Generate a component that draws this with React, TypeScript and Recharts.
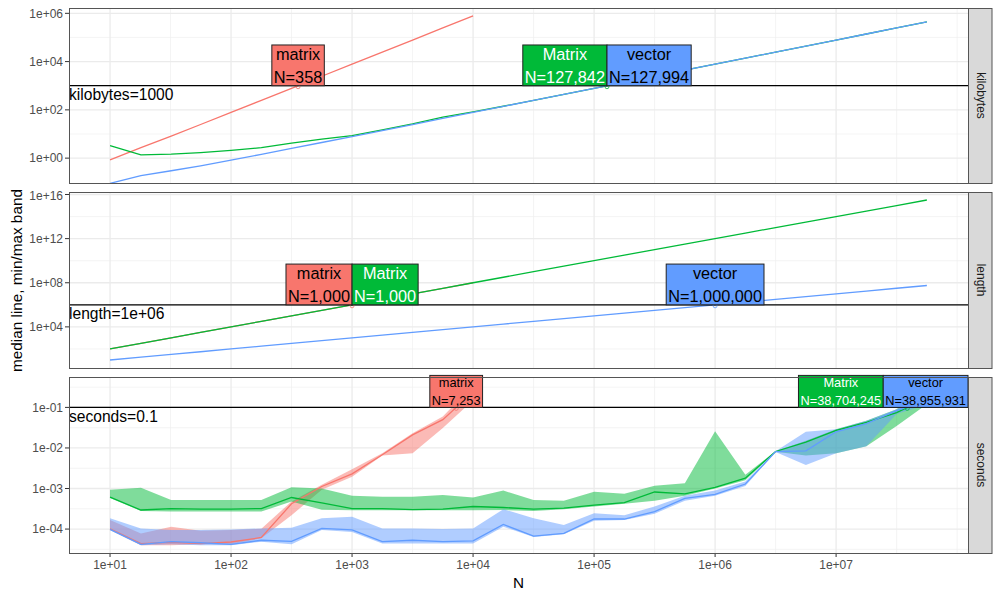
import React from "react";
import {
  Area,
  CartesianGrid,
  ComposedChart,
  Line,
  ReferenceDot,
  ReferenceLine,
  XAxis,
  YAxis
} from "recharts";

const FONT = '"Liberation Sans", Arial, Helvetica, sans-serif';
const COLORS: Record<string, string> = { matrix: "#F8766D", Matrix: "#00BA38", vector: "#619CFF" };
const INK: Record<string, string> = { matrix: "#000000", Matrix: "#FFFFFF", vector: "#000000" };
const SERIES = ["matrix", "Matrix", "vector"];

// N values (quarter-decade steps)
const N = [
  10, 18, 32, 56, 100, 178, 316, 562, 1000, 1778, 3162, 5623, 10000, 17783, 31623, 56234,
  100000, 177828, 316228, 562341, 1000000, 1778279, 3162278, 5623413, 10000000, 17782794,
  31622777, 56234133
];

// kilobytes
const kbMatrix = [0.85, 2.7, 8.2, 24.7, 78, 248, 781, 2467, 7813, 24700, 78110, 247000, 781000];
const kbMatrixPkg = [
  3.3, 1.37, 1.47, 1.7, 2.1, 2.7, 4.2, 6.1, 8.6, 14.8, 26, 50, 82, 141, 249, 441, 783, 1391,
  2473, 4395, 7815, 13895, 24707, 43935, 78127, 138930, 247055, 439331
];
const kbVector = [
  0.09, 0.19, 0.3, 0.48, 0.83, 1.44, 2.52, 4.44, 7.86, 13.9, 24.7, 44.0, 78.2, 139, 247, 439,
  781, 1389, 2471, 4393, 7813, 13893, 24705, 43933, 78125, 138928, 247053, 439329
];

// length
const lenMatrix = [100, 324, 1024, 3136, 10000, 31684, 99856, 315844, 1e6, 3161284, 9998244, 31618129, 1e8];
const lenMatrixPkg = [
  100, 324, 1024, 3136, 10000, 31684, 99856, 315844, 1e6, 3161284, 9998244, 31618129, 1e8,
  316235089, 1.000014e9, 3.162263e9, 1e10, 3.16228e10, 1.0e11, 3.16227e11, 1e12, 3.16228e12,
  1e13, 3.16228e13, 1e14, 3.16228e14, 1e15, 3.16228e15
];
const lenVector = N;

// seconds: median / min / max
const secMatrixMed = [1.02e-4, 4.4e-5, 4.7e-5, 4.4e-5, 4.8e-5, 6.2e-5, 4.2e-4, 1.12e-3, 2.3e-3, 6.8e-3, 2.1e-2, 5.0e-2, 0.24];
const secMatrixMin = [9.5e-5, 4.0e-5, 4.0e-5, 4.2e-5, 4.2e-5, 5.9e-5, 2.2e-4, 9.3e-4, 1.95e-3, 6.5e-3, 7.4e-3, 3.1e-2, 0.15];
const secMatrixMax = [1.67e-4, 7.8e-5, 1.14e-4, 9.1e-5, 9.5e-5, 1.02e-4, 4.8e-4, 1.23e-3, 3.0e-3, 7.4e-3, 2.3e-2, 6.0e-2, 0.35];

const secMatrixPkgMed = [
  6.1e-4, 2.95e-4, 3.2e-4, 3.1e-4, 3.1e-4, 3.2e-4, 6.0e-4, 4.4e-4, 3.2e-4, 3.2e-4, 3.0e-4, 3.1e-4,
  3.6e-4, 3.4e-4, 3.1e-4, 3.3e-4, 3.9e-4, 4.5e-4, 8.2e-4, 7.4e-4, 1.07e-3, 1.8e-3, 8.2e-3,
  1.4e-2, 2.7e-2, 4.3e-2, 7.4e-2, 0.17
];
const secMatrixPkgMin = [
  5.8e-4, 2.8e-4, 2.7e-4, 2.7e-4, 2.7e-4, 2.7e-4, 4.8e-4, 3.0e-4, 2.9e-4, 2.9e-4, 2.9e-4, 2.9e-4,
  2.9e-4, 2.95e-4, 2.8e-4, 3.1e-4, 3.6e-4, 4.2e-4, 5.0e-4, 6.6e-4, 1.0e-3, 1.6e-3, 8.1e-3,
  6.5e-3, 7.4e-3, 1.1e-2, 3.5e-2, 0.12
];
const secMatrixPkgMax = [
  9.3e-4, 1.05e-3, 5.2e-4, 5.2e-4, 5.2e-4, 5.2e-4, 1.07e-3, 1.0e-3, 6.6e-4, 6.3e-4, 6.3e-4, 6.9e-4,
  6.0e-4, 8.9e-4, 5.2e-4, 5.0e-4, 8.3e-4, 7.4e-4, 1.17e-3, 1.35e-3, 2.6e-2, 2.2e-3, 8.3e-3,
  1.5e-2, 2.9e-2, 4.7e-2, 9.0e-2, 0.35
];

const secVectorMed = [
  9.8e-5, 4.2e-5, 4.9e-5, 4.6e-5, 4.2e-5, 5.3e-5, 5.0e-5, 1.04e-4, 9.5e-5, 4.9e-5, 5.3e-5, 4.9e-5,
  5.1e-5, 1.3e-4, 6.7e-5, 7.8e-5, 1.77e-4, 1.77e-4, 2.7e-4, 5.7e-4, 7.2e-4, 1.29e-3, 8.1e-3,
  8.5e-3, 2.5e-2, 4.0e-2, 8.3e-2, 0.15
];
const secVectorMin = [
  9.5e-5, 4.0e-5, 4.2e-5, 4.0e-5, 4.0e-5, 4.9e-5, 4.2e-5, 9.5e-5, 8.5e-5, 4.4e-5, 4.4e-5, 4.4e-5,
  4.4e-5, 1.14e-4, 6.4e-5, 7.4e-5, 1.6e-4, 1.67e-4, 2.4e-4, 5.0e-4, 6.6e-4, 1.15e-3, 8.0e-3,
  3.8e-3, 7.4e-3, 1.1e-2, 6.9e-2, 0.12
];
const secVectorMax = [
  1.85e-4, 1.04e-4, 9.5e-5, 9.5e-5, 9.8e-5, 1.04e-4, 1.08e-4, 1.85e-4, 2.0e-4, 1.04e-4, 1.04e-4,
  1.0e-4, 1.04e-4, 3.1e-4, 1.85e-4, 1.26e-4, 2.45e-4, 2.2e-4, 3.6e-4, 6.6e-4, 8.9e-4, 1.48e-3,
  8.3e-3, 2.5e-2, 2.9e-2, 4.7e-2, 9.0e-2, 0.3
];

// direct labels where each median line crosses the threshold
const kbLabels = [[{ series: "matrix", n: 358 }], [{ series: "Matrix", n: 127842 }, { series: "vector", n: 127994 }]];
const lenLabels = [[{ series: "matrix", n: 1000 }, { series: "Matrix", n: 1000 }], [{ series: "vector", n: 1000000 }]];
const secLabels = [[{ series: "matrix", n: 7253 }], [{ series: "Matrix", n: 38704245 }, { series: "vector", n: 38955931 }]];

// axes
const X_DOMAIN = [4.58, 1.23e8];
const X_TICKS = [10, 100, 1e3, 1e4, 1e5, 1e6, 1e7];
const X_MINOR = [31.6, 316, 3162, 31623, 316228, 3162278, 31622777, 1e8];

const PLOT_LEFT = 69;
const PLOT_RIGHT = 968;

const sciFmt = (v: number) => {
  const e = Math.round(Math.log10(v));
  return `1e${e < 0 ? "-" : "+"}${String(Math.abs(e)).padStart(2, "0")}`;
};

const ADV: Record<string, number> = {
  "0": 0.556, "1": 0.556, "2": 0.556, "3": 0.556, "4": 0.556, "5": 0.556, "6": 0.556, "7": 0.556,
  "8": 0.556, "9": 0.556, ",": 0.278, "=": 0.584, N: 0.722, M: 0.833, m: 0.833, a: 0.556,
  t: 0.278, r: 0.333, i: 0.222, x: 0.5, v: 0.5, e: 0.556, c: 0.5, o: 0.556
};
const textWidth = (s: string, fs: number) => [...s].reduce((w, ch) => w + (ADV[ch] ?? 0.556), 0) * fs;

const at = (arr: number[], i: number) => (i < arr.length ? arr[i] : null);
const band = (lo: number[], hi: number[], i: number) => (i < lo.length ? [lo[i], hi[i]] : null);

const kbRows = N.map((n, i) => ({ N: n, matrix: at(kbMatrix, i), Matrix: kbMatrixPkg[i], vector: kbVector[i] }));
const lenRows = N.map((n, i) => ({ N: n, matrix: at(lenMatrix, i), Matrix: lenMatrixPkg[i], vector: lenVector[i] }));
const secRows = N.map((n, i) => ({
  N: n,
  matrix: at(secMatrixMed, i),
  Matrix: secMatrixPkgMed[i],
  vector: secVectorMed[i],
  matrixBand: band(secMatrixMin, secMatrixMax, i),
  MatrixBand: band(secMatrixPkgMin, secMatrixPkgMax, i),
  vectorBand: band(secVectorMin, secVectorMax, i)
}));

function LabelGroup(props: any) {
  const { cx, cy, members, fs } = props;
  if (cx == null || cy == null) return null;
  const texts = members.map((m: any) => `N=${m.n.toLocaleString("en-US")}`);
  const widths = members.map((m: any, i: number) => Math.max(textWidth(m.series, fs), textWidth(texts[i], fs)) + 4);
  const total = widths.reduce((a: number, b: number) => a + b, 0);
  let left = members.length > 1 ? cx - widths[0] : cx - widths[0] / 2;
  left = Math.max(PLOT_LEFT, Math.min(left, PLOT_RIGHT - total));
  const h = fs * 2.5;
  const topY = cy - h;
  let x = left;
  return (
    <g>
      <circle cx={cx} cy={cy + 1} r={2} fill="none" stroke={COLORS[members[0].series]} strokeWidth={0.8} />
      {members.map((m: any, i: number) => {
        const w = widths[i];
        const el = (
          <g key={m.series}>
            <rect x={x} y={topY} width={w} height={h} fill={COLORS[m.series]} stroke="#222" strokeWidth={1} />
            <text x={x + w / 2} y={topY + fs * 0.92} textAnchor="middle" fontSize={fs} fontFamily={FONT} fill={INK[m.series]}>
              {m.series}
            </text>
            <text x={x + w / 2} y={topY + fs * 2.35} textAnchor="middle" fontSize={fs} fontFamily={FONT} fill={INK[m.series]}>
              {texts[i]}
            </text>
          </g>
        );
        x += w;
        return el;
      })}
    </g>
  );
}

function ThreshText(props: any) {
  const { viewBox, text } = props;
  if (!viewBox) return null;
  return (
    <text x={viewBox.x} y={viewBox.y + 14.5} fontSize={15.6} fontFamily={FONT} fill="#000">
      {text}
    </text>
  );
}

function AxisTitleN(props: any) {
  const { viewBox } = props;
  if (!viewBox) return null;
  return (
    <text x={viewBox.x + viewBox.width / 2} y={viewBox.y + 35} textAnchor="middle" fontSize={15.3} fontFamily={FONT} fill="#000">
      N
    </text>
  );
}

type PanelProps = {
  rows: any[];
  top: number;
  height: number;
  marginTop: number;
  yDomain: number[];
  yTicks: number[];
  yMinor: number[];
  threshold: number;
  thresholdText: string;
  groups: { series: string; n: number }[][];
  fs: number;
  bands: boolean;
  showX: boolean;
};

function Panel(p: PanelProps) {
  const tickStyle = { fill: "#4D4D4D", fontSize: 12, fontFamily: FONT };
  return (
    <div style={{ position: "absolute", left: 0, top: p.top }}>
      <ComposedChart
        width={1000}
        height={p.height}
        data={p.rows}
        margin={{ top: p.marginTop, right: 1000 - PLOT_RIGHT, bottom: p.showX ? 0 : 5, left: 0 }}
      >
        <CartesianGrid stroke="#EFEFEF" strokeWidth={0.7} horizontalValues={p.yMinor} verticalValues={X_MINOR} />
        <CartesianGrid stroke="#EBEBEB" strokeWidth={1.3} horizontalValues={p.yTicks} verticalValues={X_TICKS} />
        <XAxis
          dataKey="N"
          type="number"
          scale="log"
          domain={X_DOMAIN}
          allowDataOverflow
          ticks={X_TICKS}
          tickFormatter={sciFmt}
          hide={!p.showX}
          height={47}
          axisLine={false}
          tickSize={4}
          tickMargin={3}
          tickLine={{ stroke: "#333" }}
          tick={tickStyle}
          label={<AxisTitleN />}
        />
        <YAxis
          type="number"
          scale="log"
          domain={p.yDomain}
          allowDataOverflow
          ticks={p.yTicks}
          tickFormatter={sciFmt}
          width={PLOT_LEFT}
          axisLine={false}
          tickSize={4}
          tickMargin={2}
          tickLine={{ stroke: "#333" }}
          tick={tickStyle}
        />
        {p.bands &&
          SERIES.map((s) => (
            <Area
              key={`${s}Band`}
              dataKey={`${s}Band`}
              type="linear"
              stroke="none"
              fill={COLORS[s]}
              fillOpacity={0.5}
              isAnimationActive={false}
            />
          ))}
        {SERIES.map((s) => (
          <Line
            key={s}
            dataKey={s}
            type="linear"
            stroke={COLORS[s]}
            strokeWidth={1.3}
            dot={false}
            isAnimationActive={false}
          />
        ))}
        <ReferenceLine y={p.threshold} stroke="#000" strokeWidth={1.3} label={<ThreshText text={p.thresholdText} />} />
        {p.groups.map((g, gi) => (
          <ReferenceDot
            key={gi}
            x={g[0].n}
            y={p.threshold}
            r={0}
            ifOverflow="visible"
            shape={(sp: any) => <LabelGroup {...sp} members={g} fs={p.fs} />}
          />
        ))}
      </ComposedChart>
    </div>
  );
}

const PANELS = [
  { name: "kilobytes", y: 8, h: 175 },
  { name: "length", y: 192, h: 176 },
  { name: "seconds", y: 377, h: 176 }
];

export default function App() {
  return (
    <div style={{ position: "absolute", left: 0, top: 0, width: 1000, height: 600, background: "#fff", fontFamily: FONT }}>
      <Panel
        rows={kbRows}
        top={0}
        height={188}
        marginTop={8}
        yDomain={[0.0933, 1.66e6]}
        yTicks={[1, 100, 1e4, 1e6]}
        yMinor={[0.1, 10, 1000, 1e5]}
        threshold={1000}
        thresholdText="kilobytes=1000"
        groups={kbLabels}
        fs={16.3}
        bands={false}
        showX={false}
      />
      <Panel
        rows={lenRows}
        top={188}
        height={185}
        marginTop={4}
        yDomain={[1.88, 1.68e16]}
        yTicks={[1e4, 1e8, 1e12, 1e16]}
        yMinor={[100, 1e6, 1e10, 1e14]}
        threshold={1e6}
        thresholdText="length=1e+06"
        groups={lenLabels}
        fs={16.3}
        bands={false}
        showX={false}
      />
      <Panel
        rows={secRows}
        top={373}
        height={227}
        marginTop={4}
        yDomain={[2.57e-5, 0.562]}
        yTicks={[1e-4, 1e-3, 1e-2, 1e-1]}
        yMinor={[3.16e-5, 3.16e-4, 3.16e-3, 3.16e-2, 0.316]}
        threshold={0.1}
        thresholdText="seconds=0.1"
        groups={secLabels}
        fs={12.8}
        bands={true}
        showX={true}
      />
      <svg width={1000} height={600} style={{ position: "absolute", left: 0, top: 0, pointerEvents: "none" }}>
        {PANELS.map((pn) => (
          <g key={pn.name}>
            <rect x={PLOT_LEFT + 0.5} y={pn.y + 0.5} width={PLOT_RIGHT - PLOT_LEFT} height={pn.h} fill="none" stroke="#555" strokeWidth={1} />
            <rect x={PLOT_RIGHT + 0.5} y={pn.y + 0.5} width={23.5} height={pn.h} fill="#D9D9D9" stroke="#555" strokeWidth={1} />
            <text
              transform={`translate(${PLOT_RIGHT + 12.5},${pn.y + pn.h / 2}) rotate(90)`}
              textAnchor="middle"
              dominantBaseline="central"
              fontSize={12}
              fontFamily={FONT}
              fill="#1A1A1A"
            >
              {pn.name}
            </text>
          </g>
        ))}
        <text
          transform="translate(16,280.5) rotate(-90)"
          textAnchor="middle"
          dominantBaseline="central"
          fontSize={15.3}
          fontFamily={FONT}
          fill="#000"
        >
          median line, min/max band
        </text>
      </svg>
    </div>
  );
}
